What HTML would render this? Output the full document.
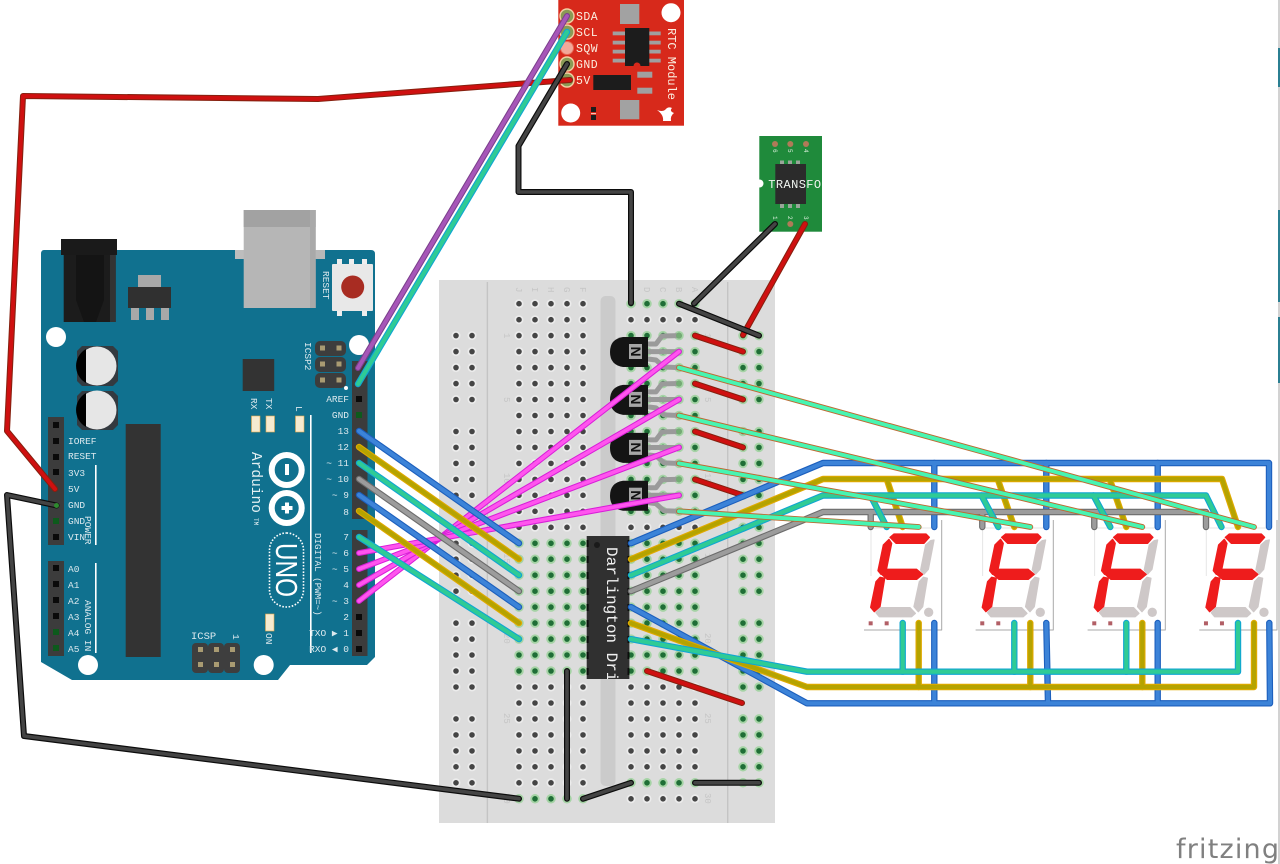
<!DOCTYPE html>
<html><head><meta charset="utf-8"><style>
html,body{margin:0;padding:0;background:#fff;width:1280px;height:864px;overflow:hidden}
svg{display:block}
text{font-family:"Liberation Mono",monospace}
.a{font-size:9.5px;fill:#dce9ee}
.e{text-anchor:end}
.l{font-size:9px;fill:#c6c6c6}
polyline{fill:none;stroke-linecap:round;stroke-linejoin:round}
.rO{stroke:#86200f;stroke-width:6}.rI{stroke:#cf1010;stroke-width:3.9}
.kO{stroke:#0c0c0c;stroke-width:6}.kI{stroke:#444;stroke-width:3.6}
.bO{stroke:#1c5fbd;stroke-width:6.4}.bI{stroke:#3c83d8;stroke-width:4.2}
.yO{stroke:#e0aa00;stroke-width:6.4}.yI{stroke:#b5a300;stroke-width:4.2}
.tO{stroke:#10a6d2;stroke-width:6.4}.tI{stroke:#2fcb95;stroke-width:4.2}
.gO{stroke:#6c6c6c;stroke-width:6.4}.gI{stroke:#9c9c9c;stroke-width:4.2}
.mO{stroke:#d81fd8;stroke-width:5.8}.mI{stroke:#ff55ee;stroke-width:3.7}
.nO{stroke:#bd6a32;stroke-width:5.8}.nI{stroke:#47f5b2;stroke-width:3.9}
.pO{stroke:#7b3f8c;stroke-width:6}.pI{stroke:#a656b8;stroke-width:3.9}
</style></head><body>
<svg width="1280" height="864" viewBox="0 0 1280 864" xmlns="http://www.w3.org/2000/svg">
<defs>
<path id="hGray" d="M456 335.6h17M456 351.6h17M456 367.6h17M456 383.6h17M456 399.5h17M456 431.5h17M456 447.4h17M456 463.4h17M456 479.4h17M456 495.3h17M456 527.3h17M456 543.3h17M456 559.2h17M456 575.2h17M456 591.2h17M456 623.1h17M456 639.1h17M456 655h17M456 671h17M456 687h17M456 718.9h17M456 734.9h17M456 750.9h17M456 766.8h17M456 782.8h17
M519 303.7h65M519 319.7h65M519 335.6h65M519 351.6h65M519 367.6h65M519 383.6h65M519 399.5h65M519 415.5h65M519 431.5h65M519 447.4h65M519 463.4h65M519 479.4h65M519 495.3h65M519 511.3h65M519 527.3h65M519 687h65M519 703h65M519 718.9h65M519 734.9h65M519 750.9h65M519 766.8h65M519 782.8h65
M631 319.7h65M631 527.3h65M631 687h65M631 703h65M631 718.9h65M631 734.9h65M631 750.9h65M631 766.8h65M631 798.8h65"/>
<path id="hGreen" d="M519 543.3h65M519 559.2h65M519 575.2h65M519 591.2h65M519 607.1h65M519 623.1h65M519 639.1h65M519 655h65M519 671h65M519 798.8h65
M631 303.7h65M631 335.6h65M631 351.6h65M631 367.6h65M631 383.6h65M631 399.5h65M631 415.5h65M631 431.5h65M631 447.4h65M631 463.4h65M631 479.4h65M631 495.3h65M631 511.3h65M631 543.3h65M631 559.2h65M631 575.2h65M631 591.2h65M631 607.1h65M631 623.1h65M631 639.1h65M631 655h65M631 671h65M631 782.8h65
M743 335.6h17M743 351.6h17M743 367.6h17M743 383.6h17M743 399.5h17M743 431.5h17M743 447.4h17M743 463.4h17M743 479.4h17M743 495.3h17M743 527.3h17M743 543.3h17M743 559.2h17M743 575.2h17M743 591.2h17M743 623.1h17M743 639.1h17M743 655h17M743 671h17M743 687h17M743 718.9h17M743 734.9h17M743 750.9h17M743 766.8h17M743 782.8h17"/>
<g id="tr">
<polyline points="648,344 656,344 662,336 679,335.6" style="stroke:#9a9a9a;stroke-width:5"/>
<polyline points="648,351.6 679,351.6" style="stroke:#9a9a9a;stroke-width:5"/>
<polyline points="648,359 656,360 664,367 679,367.6" style="stroke:#9a9a9a;stroke-width:5"/>
<circle cx="679" cy="335.6" r="3" fill="#74ab74"/>
<path d="M648 337H623Q610 339 610 352Q610 365 623 367H648Z" fill="#141414"/>
<rect x="629" y="344" width="13" height="15" fill="#a6a6a6"/>
<text transform="translate(631,346.5) rotate(90)" style="font-family:'Liberation Sans',sans-serif;font-weight:bold;font-size:14px" fill="#111" x="0" y="0">N</text>
</g>
<g id="dig">
<rect x="872" y="528" width="62" height="96" fill="#fff"/>
<polyline points="864,630 941.7,630 941.7,520" style="stroke:#a8a8a8;stroke-width:1;stroke-linecap:butt"/>
<polyline points="871,576 871,528 934,528" style="stroke:#e6e6e6;stroke-width:1;stroke-linecap:butt"/>
<g transform="translate(780,450) scale(.33333)" stroke-width="4" stroke-linejoin="round">
<polygon points="330,262 342,252 438,252 448,262 432,280 348,280" fill="#ee1c1c" stroke="#ee1c1c"/>
<polygon points="327,268 335,280 318,365 303,373 294,362 310,285" fill="#ee1c1c" stroke="#ee1c1c"/>
<polygon points="305,373 322,358 410,358 428,373 410,388 322,388" fill="#ee1c1c" stroke="#ee1c1c"/>
<polygon points="314,385 300,470 283,485 272,472 288,395 300,382" fill="#ee1c1c" stroke="#ee1c1c"/>
<polygon points="462,270 445,358 432,372 422,360 437,285 452,272" fill="#cec8c8" stroke="#cec8c8"/>
<polygon points="442,385 428,470 415,485 402,470 418,395 430,382" fill="#cec8c8" stroke="#cec8c8"/>
<polygon points="288,488 302,473 390,473 406,490 395,500 298,500" fill="#cec8c8" stroke="#cec8c8"/>
<circle cx="446" cy="487" r="14" fill="#cec8c8"/>
<rect x="266" y="514" width="12" height="12" fill="#b25f66" stroke="none"/>
<rect x="314" y="514" width="12" height="12" fill="#b25f66" stroke="none"/>
</g>
</g>
<clipPath id="icc"><rect x="586" y="536" width="44" height="143"/></clipPath>
<clipPath id="trc"><rect x="759" y="136" width="63" height="96"/></clipPath>
</defs>

<!-- right-edge strip -->
<rect x="1278" y="0" width="2" height="864" fill="#d2d2d2"/>
<rect x="1278" y="48" width="2" height="39" fill="#2b7f92"/>
<rect x="1278" y="210" width="2" height="92" fill="#2b7f92"/>
<rect x="1278" y="317" width="2" height="66" fill="#2b7f92"/>

<!-- breadboard -->
<rect x="439" y="280" width="336" height="543" fill="#dcdcdc"/>
<rect x="486.7" y="282" width="1.4" height="541" fill="#c4c4c4"/>
<rect x="727" y="282" width="1.4" height="541" fill="#c4c4c4"/>
<rect x="600.5" y="296" width="15" height="490" rx="5" fill="#cbcbcb"/>
<g fill="none" stroke-linecap="round" stroke-dasharray="0 16">
<use href="#hGray" stroke="#ececec" stroke-width="9"/>
<use href="#hGray" stroke="#454545" stroke-width="5.6"/>
<use href="#hGreen" stroke="#a5d3a5" stroke-width="9.5"/>
<use href="#hGreen" stroke="#1f6e36" stroke-width="5.6"/>
</g>
<g class="l">
<text transform="translate(516,287) rotate(90)">J</text>
<text transform="translate(532,287) rotate(90)">I</text>
<text transform="translate(548,287) rotate(90)">H</text>
<text transform="translate(564,287) rotate(90)">G</text>
<text transform="translate(580,287) rotate(90)">F</text>
<text transform="translate(644,287) rotate(90)">D</text>
<text transform="translate(660,287) rotate(90)">C</text>
<text transform="translate(676,287) rotate(90)">B</text>
<text transform="translate(692,287) rotate(90)">A</text>
<text transform="translate(504,333) rotate(90)">1</text>
<text transform="translate(504,397) rotate(90)">5</text>
<text transform="translate(504,473) rotate(90)">10</text>
<text transform="translate(504,553) rotate(90)">15</text>
<text transform="translate(504,633) rotate(90)">20</text>
<text transform="translate(504,713) rotate(90)">25</text>
<text transform="translate(504,793) rotate(90)">30</text>
<text transform="translate(705,333) rotate(90)">1</text>
<text transform="translate(705,397) rotate(90)">5</text>
<text transform="translate(705,473) rotate(90)">10</text>
<text transform="translate(705,553) rotate(90)">15</text>
<text transform="translate(705,633) rotate(90)">20</text>
<text transform="translate(705,713) rotate(90)">25</text>
<text transform="translate(705,793) rotate(90)">30</text>
</g>

<!-- transistors -->
<use href="#tr"/>
<use href="#tr" y="47.9"/>
<use href="#tr" y="95.9"/>
<use href="#tr" y="143.7"/>

<!-- Darlington -->
<rect x="586.7" y="536" width="42.7" height="143" fill="#303030"/>
<line x1="587.6" y1="540" x2="587.6" y2="679" stroke="#0c0c0c" stroke-width="2" stroke-dasharray="7 9"/>
<line x1="628.5" y1="540" x2="628.5" y2="679" stroke="#0c0c0c" stroke-width="2" stroke-dasharray="7 9"/>
<circle cx="597" cy="545" r="3" fill="#1a1a1a"/>
<g clip-path="url(#icc)"><text transform="translate(607,547) rotate(90)" font-size="16" fill="#f0f0f0">Darlington Driver</text></g>

<!-- Arduino -->
<path d="M44 250H371Q375 250 375 254V657L367 665H290L278 680H72L41 662V254Q41 250 44 250Z" fill="#10718f"/>
<rect x="61" y="239" width="56" height="16" fill="#1a1a1a"/>
<rect x="63.7" y="255" width="52" height="67" fill="#1c1c1c"/>
<rect x="110" y="255" width="5.7" height="67" fill="#333"/>
<path d="M76 255V300L84 322H96L104 300V255Z" fill="#141414"/>
<rect x="138" y="275" width="23" height="12" fill="#a8a8a8"/>
<rect x="128" y="287" width="43" height="21" fill="#303030"/>
<rect x="131" y="308" width="8" height="12" fill="#a8a8a8"/>
<rect x="146" y="308" width="8" height="12" fill="#a8a8a8"/>
<rect x="161" y="308" width="8" height="12" fill="#a8a8a8"/>
<rect x="235" y="250" width="82" height="9" fill="#bdbdbd"/>
<rect x="316" y="250" width="9" height="9" fill="#b8b8b8"/>
<rect x="243.7" y="210" width="72" height="98" fill="#b6b6b6"/>
<rect x="243.7" y="210" width="72" height="17" fill="#a2a2a2"/>
<rect x="310" y="210" width="5.7" height="98" fill="#a9a9a9"/>
<rect x="337" y="259" width="5" height="6" fill="#eee"/><rect x="349" y="259" width="5" height="6" fill="#eee"/><rect x="362" y="259" width="5" height="6" fill="#eee"/>
<rect x="337" y="310" width="5" height="6" fill="#eee"/><rect x="362" y="310" width="5" height="6" fill="#eee"/>
<rect x="332" y="264" width="41" height="47" rx="1" fill="#e8e8e8"/>
<circle cx="352.7" cy="287" r="11.5" fill="#a82c22"/>
<text class="a" transform="translate(323,271) rotate(90)">RESET</text>
<circle cx="56" cy="337" r="10" fill="#fff"/><circle cx="359" cy="345" r="10" fill="#fff"/>
<circle cx="88" cy="665" r="10" fill="#fff"/><circle cx="263.7" cy="665" r="10" fill="#fff"/>
<polygon points="82,346 113,346 118,351 118,381 113,386 82,386 77,381 77,351" fill="#343a40"/>
<circle cx="97" cy="366" r="19.5" fill="#e6e6e6"/><path d="M86 349A19.5 19.5 0 0 0 86 383Z" fill="#000"/>
<polygon points="82,391 113,391 118,396 118,425 113,430 82,430 77,425 77,396" fill="#343a40"/>
<circle cx="97" cy="410" r="19.5" fill="#e6e6e6"/><path d="M86 393A19.5 19.5 0 0 0 86 427Z" fill="#000"/>
<rect x="242.7" y="359" width="31.5" height="32" fill="#333"/>
<rect x="125.7" y="424" width="35" height="233" fill="#333"/>
<g fill="#3d3d3d"><rect x="315" y="341" width="31" height="15" rx="5"/><rect x="315" y="357" width="31" height="15" rx="5"/><rect x="315" y="373" width="31" height="15" rx="5"/></g>
<g fill="#a99b72"><rect x="320" y="345.5" width="5" height="5"/><rect x="336.5" y="345.5" width="5" height="5"/><rect x="320" y="361.5" width="5" height="5"/><rect x="336.5" y="361.5" width="5" height="5"/><rect x="320" y="377.5" width="5" height="5"/><rect x="336.5" y="377.5" width="5" height="5"/></g>
<circle cx="346" cy="388" r="2" fill="#fff"/>
<text class="a" transform="translate(305,342) rotate(90)">ICSP2</text>
<text class="a" transform="translate(251,398) rotate(90)">RX</text>
<text class="a" transform="translate(266,398) rotate(90)">TX</text>
<text class="a" transform="translate(296,406) rotate(90)">L</text>
<g fill="#f6ebd0" stroke="#e8a94a" stroke-width=".6"><rect x="251.5" y="416" width="8.5" height="16"/><rect x="266" y="416" width="8.5" height="16"/><rect x="295.5" y="416" width="8.5" height="16"/><rect x="265.5" y="614" width="8.5" height="17"/></g>
<text class="a" transform="translate(266,633) rotate(90)">ON</text>
<text transform="translate(252,452) rotate(90)" font-size="14.5" fill="#e4f0f3">Arduino</text>
<text transform="translate(254,518) rotate(90)" font-size="6" fill="#e4f0f3">TM</text>
<circle cx="286.7" cy="470" r="15" fill="none" stroke="#fff" stroke-width="6"/>
<circle cx="286.7" cy="508" r="15" fill="none" stroke="#fff" stroke-width="6"/>
<rect x="285" y="464" width="4" height="11" fill="#fff"/>
<rect x="285" y="502.5" width="4" height="11" fill="#fff"/><rect x="281.5" y="506" width="11" height="4" fill="#fff"/>
<rect x="269.5" y="533" width="34" height="74" rx="17" fill="none" stroke="#fff" stroke-width="1.6" stroke-dasharray="1.6 1.6"/>
<text transform="translate(276,543) rotate(90)" style="font-family:'Liberation Sans',sans-serif" font-size="31" fill="#fff" textLength="54" lengthAdjust="spacingAndGlyphs" x="0" y="0">UNO</text>
<rect x="95" y="465" width="1.6" height="80" fill="#fff"/>
<rect x="95" y="563" width="1.6" height="90" fill="#fff"/>
<rect x="310" y="415" width="1.6" height="238" fill="#fff"/>
<rect x="48" y="417" width="16" height="128" fill="#3c3c3c"/>
<rect x="48" y="561" width="16" height="95" fill="#3c3c3c"/>
<rect x="352" y="361" width="15.5" height="158" fill="#3c3c3c"/>
<rect x="352" y="530" width="15.5" height="126" fill="#3c3c3c"/>
<g fill="#0a0a0a">
<rect x="53" y="422" width="6" height="6"/><rect x="53" y="438" width="6" height="6"/><rect x="53" y="454" width="6" height="6"/><rect x="53" y="469" width="6" height="6"/><rect x="53" y="534" width="6" height="6"/>
<rect x="53" y="565" width="6" height="6"/><rect x="53" y="581" width="6" height="6"/><rect x="53" y="597" width="6" height="6"/><rect x="53" y="613" width="6" height="6"/>
<rect x="356" y="396" width="6" height="6"/><rect x="356" y="614" width="6" height="6"/><rect x="356" y="630" width="6" height="6"/><rect x="356" y="646" width="6" height="6"/>
</g>
<g fill="#0d5a1c">
<rect x="53" y="518" width="6" height="6"/><rect x="53" y="629" width="6" height="6"/><rect x="53" y="645" width="6" height="6"/><rect x="356" y="412" width="6" height="6"/>
</g>
<g fill="#3e3e3e"><rect x="192" y="643" width="16" height="30" rx="4"/><rect x="208" y="643" width="16" height="30" rx="4"/><rect x="224" y="643" width="16" height="30" rx="4"/></g>
<g fill="#a99b72"><rect x="198" y="647" width="5" height="5"/><rect x="214" y="647" width="5" height="5"/><rect x="230" y="647" width="5" height="5"/><rect x="198" y="662" width="5" height="5"/><rect x="214" y="662" width="5" height="5"/><rect x="230" y="662" width="5" height="5"/></g>
<text class="a" x="191" y="639" style="font-size:10.5px">ICSP</text>
<text class="a" transform="translate(233,634) rotate(90)">1</text>
<g class="a">
<text x="68" y="444">IOREF</text><text x="68" y="459">RESET</text><text x="68" y="476">3V3</text><text x="68" y="492">5V</text><text x="68" y="508">GND</text><text x="68" y="524">GND</text><text x="68" y="540">VIN</text>
<text x="68" y="572">A0</text><text x="68" y="588">A1</text><text x="68" y="604">A2</text><text x="68" y="620">A3</text><text x="68" y="636">A4</text><text x="68" y="652">A5</text>
<text transform="translate(85,516) rotate(90)">POWER</text>
<text transform="translate(85,600) rotate(90)">ANALOG IN</text>
<text transform="translate(315,533) rotate(90)" style="font-size:9.2px">DIGITAL (PWM=~)</text>
</g>
<g class="a e">
<text x="349" y="402">AREF</text><text x="349" y="418">GND</text><text x="349" y="434">13</text><text x="349" y="450">12</text><text x="349" y="466">~ 11</text><text x="349" y="482">~ 10</text><text x="349" y="498">~ 9</text><text x="349" y="515">8</text>
<text x="349" y="540">7</text><text x="349" y="556">~ 6</text><text x="349" y="572">~ 5</text><text x="349" y="588">4</text><text x="349" y="604">~ 3</text><text x="349" y="620">2</text><text x="349" y="636">TXO ▶ 1</text><text x="349" y="652">RXO ◀ 0</text>
</g>

<!-- RTC -->
<rect x="558.3" y="0" width="125.7" height="125.7" fill="#d7291b"/>
<circle cx="671" cy="12.7" r="9.5" fill="#fff"/><circle cx="570.7" cy="113" r="9.5" fill="#fff"/>
<rect x="620" y="4" width="19.3" height="20" fill="#a2a2a2"/><rect x="620" y="100" width="19.3" height="19.3" fill="#a2a2a2"/>
<g fill="#a0a0a0"><rect x="612.7" y="31.5" width="48" height="3.8"/><rect x="612.7" y="40.7" width="48" height="3.8"/><rect x="612.7" y="49.7" width="48" height="3.8"/><rect x="612.7" y="58.7" width="48" height="3.8"/></g>
<rect x="625" y="28" width="24.3" height="38" fill="#1c1c1c"/><circle cx="637" cy="66" r="3.5" fill="#d7291b"/>
<rect x="593.3" y="75" width="37.7" height="15" fill="#1c1c1c"/>
<rect x="637.3" y="71.7" width="15" height="6" fill="#a0a0a0"/><rect x="637.3" y="87.7" width="15" height="6" fill="#a0a0a0"/>
<rect x="591" y="107" width="5" height="5" fill="#1c1c1c"/><rect x="591" y="115" width="5" height="5" fill="#1c1c1c"/><rect x="591" y="113" width="5" height="1.2" fill="#f3c8b8"/>
<g fill="#8a9a55" stroke="#f2cfa4" stroke-width="1.4"><circle cx="567" cy="16" r="7"/><circle cx="567" cy="32" r="7"/><circle cx="567" cy="64" r="7"/><circle cx="567" cy="80" r="7"/></g>
<circle cx="567" cy="48" r="6.5" fill="#f2a89a" stroke="#e86a55" stroke-width="1"/>
<g font-size="11.5" fill="#fbeee0" letter-spacing=".5"><text x="576" y="20">SDA</text><text x="576" y="36">SCL</text><text x="576" y="52">SQW</text><text x="576" y="68">GND</text><text x="576" y="84">5V</text></g>
<text transform="translate(668,28) rotate(90)" font-size="12" fill="#fbeee0">RTC Module</text>
<path d="M657 110Q662 112 665 110Q668 106 672 108Q669 111 674 113Q670 116 671 121H663Q664 115 657 110Z" fill="#fff"/>

<!-- Transformer board -->
<rect x="759.3" y="136" width="62.7" height="95.7" fill="#1f8a3b"/>
<circle cx="759.5" cy="183.5" r="4" fill="#fff"/>
<g fill="#9aa59a"><rect x="780" y="160.5" width="4" height="4"/><rect x="788" y="160.5" width="4" height="4"/><rect x="796" y="160.5" width="4" height="4"/><rect x="780" y="204" width="4" height="4"/><rect x="788" y="204" width="4" height="4"/><rect x="796" y="204" width="4" height="4"/></g>
<rect x="775.3" y="164" width="30.7" height="40" fill="#2b2b2b"/>
<g fill="#b07a58"><circle cx="775" cy="144" r="3"/><circle cx="790.3" cy="144" r="3"/><circle cx="806" cy="144" r="3"/><circle cx="790.3" cy="224" r="3"/></g>
<g font-size="6" fill="#dff0df"><text transform="translate(773,149) rotate(90)">6</text><text transform="translate(788,149) rotate(90)">5</text><text transform="translate(804,149) rotate(90)">4</text><text transform="translate(773,216) rotate(90)">1</text><text transform="translate(788,216) rotate(90)">2</text><text transform="translate(804,216) rotate(90)">3</text></g>
<g clip-path="url(#trc)"><text x="768.3" y="188" font-size="12" letter-spacing=".4" fill="#f0f5f0">TRANSFORMER</text></g>

<!-- Displays -->
<use href="#dig"/><use href="#dig" x="111.6"/><use href="#dig" x="223.6"/><use href="#dig" x="335.3"/>

<!-- long wires from Arduino -->
<polyline class="rO" points="570,80 318,99 23,96 7,431 55,489"/><polyline class="rI" points="570,80 318,99 23,96 7,431 55,489"/>
<polyline class="kO" points="56.5,505.5 7,495 24,736 519,798.7"/><polyline class="kI" points="56.5,505.5 7,495 24,736 519,798.7"/>
<circle cx="56.5" cy="505.5" r="2.5" fill="#2e8a2e"/>
<polyline class="pO" points="358,368 567,16"/><polyline class="pI" points="358,368 567,16"/>
<polyline class="tO" points="358,384 567,32"/><polyline class="tI" points="358,384 567,32"/>
<polyline class="kO" points="567,64 518.5,146 518.5,192 631,192 631,303"/><polyline class="kI" points="567,64 518.5,146 518.5,192 631,192 631,303"/>
<polyline class="kO" points="775,224 694,303.5"/><polyline class="kI" points="775,224 694,303.5"/>
<polyline class="rO" points="805,224 743,335"/><polyline class="rI" points="805,224 743,335"/>
<polyline class="kO" points="679,303.7 759,335.6"/><polyline class="kI" points="679,303.7 759,335.6"/>

<!-- red jumpers -->
<polyline class="rO" points="695,335.6 743,351.6"/><polyline class="rI" points="695,335.6 743,351.6"/>
<polyline class="rO" points="695,383.6 743,399.5"/><polyline class="rI" points="695,383.6 743,399.5"/>
<polyline class="rO" points="695,431.5 743,447.4"/><polyline class="rI" points="695,431.5 743,447.4"/>
<polyline class="rO" points="695,479.4 743,495.3"/><polyline class="rI" points="695,479.4 743,495.3"/>
<polyline class="rO" points="647,671 742,703"/><polyline class="rI" points="647,671 742,703"/>

<!-- black jumpers -->
<polyline class="kO" points="567,671 567,798.8"/><polyline class="kI" points="567,671 567,798.8"/>
<polyline class="kO" points="583,798.8 631,782.8"/><polyline class="kI" points="583,798.8 631,782.8"/>
<polyline class="kO" points="695,782.8 759,782.8"/><polyline class="kI" points="695,782.8 759,782.8"/>

<!-- magenta -->
<polyline class="mO" points="359,601 679,351.6"/><polyline class="mI" points="359,601 679,351.6"/>
<polyline class="mO" points="359,585 679,399.5"/><polyline class="mI" points="359,585 679,399.5"/>
<polyline class="mO" points="359,569 679,447.4"/><polyline class="mI" points="359,569 679,447.4"/>
<polyline class="mO" points="359,553 679,495.3"/><polyline class="mI" points="359,553 679,495.3"/>

<!-- Arduino to Darlington -->
<polyline class="bO" points="359,431 519,543.3"/><polyline class="bI" points="359,431 519,543.3"/>
<polyline class="yO" points="359,447 519,559.2"/><polyline class="yI" points="359,447 519,559.2"/>
<polyline class="tO" points="359,463 519,575.2"/><polyline class="tI" points="359,463 519,575.2"/>
<polyline class="gO" points="359,479 519,591.2"/><polyline class="gI" points="359,479 519,591.2"/>
<polyline class="bO" points="359,495 519,607.1"/><polyline class="bI" points="359,495 519,607.1"/>
<polyline class="yO" points="359,511 519,623.1"/><polyline class="yI" points="359,511 519,623.1"/>
<polyline class="tO" points="359,537 519,639.1"/><polyline class="tI" points="359,537 519,639.1"/>

<!-- Bus: top -->
<polyline class="bO" points="631,543.3 823,463 1269,463 1269,527"/><polyline class="bO" points="934.3,463 934.3,527"/><polyline class="bO" points="1046.3,463 1046.3,527"/><polyline class="bO" points="1157.7,463 1157.7,527"/>
<polyline class="bI" points="631,543.3 823,463 1269,463 1269,527"/><polyline class="bI" points="934.3,463 934.3,527"/><polyline class="bI" points="1046.3,463 1046.3,527"/><polyline class="bI" points="1157.7,463 1157.7,527"/>
<polyline class="yO" points="631,559.2 823,479 1222,479 1238,527"/><polyline class="yO" points="887,480 902.7,527"/><polyline class="yO" points="998,480 1014.3,527"/><polyline class="yO" points="1110,480 1126.3,527"/>
<polyline class="yI" points="631,559.2 823,479 1222,479 1238,527"/><polyline class="yI" points="887,480 902.7,527"/><polyline class="yI" points="998,480 1014.3,527"/><polyline class="yI" points="1110,480 1126.3,527"/>
<polyline class="gO" points="631,591.2 823,512 1206,512 1206,527"/><polyline class="gO" points="870.7,512 870.7,527"/><polyline class="gO" points="982.3,512 982.3,527"/><polyline class="gO" points="1094.3,512 1094.3,527"/>
<polyline class="gI" points="631,591.2 823,512 1206,512 1206,527"/><polyline class="gI" points="870.7,512 870.7,527"/><polyline class="gI" points="982.3,512 982.3,527"/><polyline class="gI" points="1094.3,512 1094.3,527"/>
<polyline class="tO" points="631,575.2 823,495.5 1206,495.5 1221.5,527"/><polyline class="tO" points="870.5,495.5 886.7,527"/><polyline class="tO" points="981.5,495.5 998.3,527"/><polyline class="tO" points="1093.5,495.5 1110.3,527"/>
<polyline class="tI" points="631,575.2 823,495.5 1206,495.5 1221.5,527"/><polyline class="tI" points="870.5,495.5 886.7,527"/><polyline class="tI" points="981.5,495.5 998.3,527"/><polyline class="tI" points="1093.5,495.5 1110.3,527"/>

<!-- Bus: bottom -->
<polyline class="bO" points="631,607.1 807,703.3 1270,703.3 1269.3,623"/><polyline class="bO" points="934.3,623 934.3,703"/><polyline class="bO" points="1046.3,623 1048,703"/><polyline class="bO" points="1157.7,623 1157.7,703"/>
<polyline class="bI" points="631,607.1 807,703.3 1270,703.3 1269.3,623"/><polyline class="bI" points="934.3,623 934.3,703"/><polyline class="bI" points="1046.3,623 1048,703"/><polyline class="bI" points="1157.7,623 1157.7,703"/>
<polyline class="yO" points="631,623.1 807,687 1254,687 1254,623"/><polyline class="yO" points="918.7,623 918.7,687"/><polyline class="yO" points="1030.3,623 1030.3,687"/><polyline class="yO" points="1142.3,623 1142.3,687"/>
<polyline class="yI" points="631,623.1 807,687 1254,687 1254,623"/><polyline class="yI" points="918.7,623 918.7,687"/><polyline class="yI" points="1030.3,623 1030.3,687"/><polyline class="yI" points="1142.3,623 1142.3,687"/>
<polyline class="tO" points="631,639.1 807,671.7 1238,671.7 1238,623"/><polyline class="tO" points="902.7,623 902.7,671.7"/><polyline class="tO" points="1014.3,623 1014.3,671.7"/><polyline class="tO" points="1126.3,623 1126.3,671.7"/>
<polyline class="tI" points="631,639.1 807,671.7 1238,671.7 1238,623"/><polyline class="tI" points="902.7,623 902.7,671.7"/><polyline class="tI" points="1014.3,623 1014.3,671.7"/><polyline class="tI" points="1126.3,623 1126.3,671.7"/>

<!-- Signal wires -->
<polyline class="nO" points="679,511.3 918.7,527"/><polyline class="nI" points="679,511.3 918.7,527"/>
<polyline class="nO" points="679,463.4 1030.3,527"/><polyline class="nI" points="679,463.4 1030.3,527"/>
<polyline class="nO" points="679,415.5 1142.3,527"/><polyline class="nI" points="679,415.5 1142.3,527"/>
<polyline class="nO" points="679,367.6 1254,527"/><polyline class="nI" points="679,367.6 1254,527"/>

<text x="1176" y="858" style="font-family:'DejaVu Sans',sans-serif" font-size="27" fill="#808080" textLength="103" lengthAdjust="spacing">fritzing</text>
</svg>
</body></html>
